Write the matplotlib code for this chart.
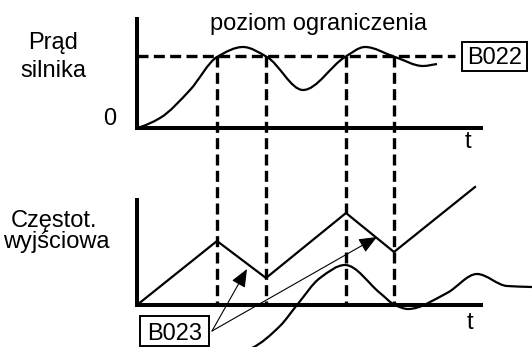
import numpy as np
import matplotlib
matplotlib.use("Agg")
import matplotlib.pyplot as plt
from matplotlib.path import Path
from matplotlib.patches import PathPatch, Rectangle, FancyArrowPatch

plt.rcParams['font.family'] = ['Liberation Sans', 'DejaVu Sans']

# drawing units are pixels, y grows downwards
origin_x = 137
axis_end_x = 483
top_zero_y = 128
bottom_zero_y = 305
limit_y = 56
limit_end_x = 455

# moments where the motor current crosses the limit level
cross_t = [217, 266, 346, 394]

# motor current (top trace), knots of the smooth curve
current_x = [137, 160, 190, 217, 243, 267, 303, 345, 365, 395, 423, 437]
current_y = [128, 118, 90, 57, 47, 57, 90, 57, 47, 57, 66, 64]

# output frequency (bottom trace), piecewise linear ramps
freq_x = [137, 217, 266, 346, 394, 475]
freq_y = [305, 241, 278, 213, 252, 187]

# rate-of-change trace under the frequency ramps
rate_x = [252, 280, 297, 320, 345, 380, 395, 408, 447, 477, 507, 532]
rate_y = [348, 326, 305, 278, 265, 293, 305, 309, 293, 274, 286, 287]

# B023 arrow tail and heads
arrow_tail = (212, 331)
arrow_heads = [(247, 269), (377, 237)]


def smooth_path(xs, ys):
    # monotone cubic through the knots, drawn as Bezier segments
    x = np.asarray(xs, float)
    y = np.asarray(ys, float)
    h = np.diff(x)
    d = np.diff(y) / h
    m = np.zeros_like(y)
    m[0], m[-1] = d[0] * 0.6, d[-1]
    for i in range(1, len(x) - 1):
        if d[i - 1] * d[i] > 0:
            w1 = 2 * h[i] + h[i - 1]
            w2 = h[i] + 2 * h[i - 1]
            m[i] = (w1 + w2) / (w1 / d[i - 1] + w2 / d[i])
    verts = [(x[0], y[0])]
    codes = [Path.MOVETO]
    for i in range(len(x) - 1):
        verts += [(x[i] + h[i] / 3, y[i] + m[i] * h[i] / 3),
                  (x[i + 1] - h[i] / 3, y[i + 1] - m[i + 1] * h[i] / 3),
                  (x[i + 1], y[i + 1])]
        codes += [Path.CURVE4] * 3
    return Path(verts, codes)


fig = plt.figure(figsize=(5.32, 3.47), dpi=100)
ax = fig.add_axes([0, 0, 1, 1])
ax.set_xlim(0, 532)
ax.set_ylim(347, 0)
ax.axis('off')

fs = 17
ink = 'black'

# axes of both plots
ax.plot([origin_x, origin_x, axis_end_x], [17, top_zero_y, top_zero_y], color=ink, lw=2.9,
        solid_joinstyle='miter', solid_capstyle='butt')
ax.plot([origin_x, origin_x, axis_end_x], [198, bottom_zero_y, bottom_zero_y], color=ink, lw=2.9,
        solid_joinstyle='miter', solid_capstyle='butt')

# limit level and the vertical markers
dash = (0, (3.3, 1.6))
ax.plot([origin_x, limit_end_x], [limit_y, limit_y], color=ink, lw=2.4, linestyle=dash)
for t in cross_t:
    ax.plot([t, t], [limit_y, bottom_zero_y], color=ink, lw=2.4, linestyle=dash)

# traces
ax.add_patch(PathPatch(smooth_path(current_x, current_y), fill=False, lw=1.6, color=ink))
ax.plot(freq_x, freq_y, color=ink, lw=1.6)
ax.add_patch(PathPatch(smooth_path(rate_x, rate_y), fill=False, lw=1.6, color=ink))

# B023 arrows
for head in arrow_heads:
    ax.add_patch(FancyArrowPatch(arrow_tail, head, arrowstyle='-|>,head_length=11,head_width=4.6',
                                 mutation_scale=1, lw=0.8, color=ink, shrinkA=0, shrinkB=0))

# parameter boxes
ax.add_patch(Rectangle((462, 42), 65, 29, fill=False, lw=1.4, ec=ink))
ax.text(495, 64, 'B022', fontsize=fs, ha='center', va='baseline')
ax.add_patch(Rectangle((140, 316), 69, 30, fill=False, lw=1.4, ec=ink))
ax.text(175, 340, 'B023', fontsize=fs, ha='center', va='baseline')

# labels
ax.text(319, 30, 'poziom ograniczenia', fontsize=fs, ha='center', va='baseline')
ax.text(53, 49, 'Prąd', fontsize=fs, ha='center', va='baseline')
ax.text(53, 77, 'silnika', fontsize=fs, ha='center', va='baseline')
ax.text(110, 125, '0', fontsize=fs, ha='center', va='baseline')
ax.text(54, 227, 'Częstot.', fontsize=fs, ha='center', va='baseline')
ax.text(56, 248, 'wyjściowa', fontsize=fs, ha='center', va='baseline')
ax.text(468, 148, 't', fontsize=fs, ha='center', va='baseline')
ax.text(470, 329, 't', fontsize=fs, ha='center', va='baseline')

fig.savefig('out.png', dpi=100)
